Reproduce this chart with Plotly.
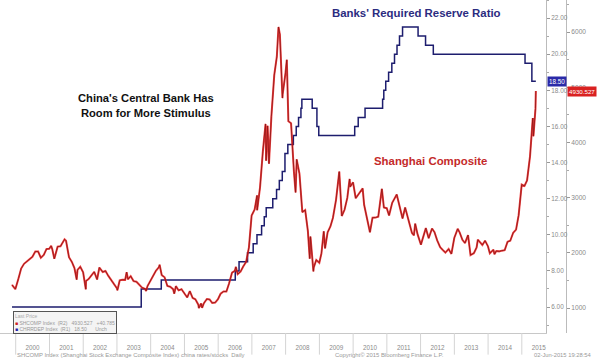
import plotly.graph_objects as go

# ---- data ----
rrr_dates = ["1999-11-22", "2003-09-21", "2004-04-25", "2006-07-05", "2006-08-15", "2006-11-15",
             "2007-01-15", "2007-02-25", "2007-04-16", "2007-05-15", "2007-06-05", "2007-08-15",
             "2007-09-25", "2007-10-25", "2007-11-26", "2007-12-25", "2008-01-25", "2008-03-25",
             "2008-04-25", "2008-05-20", "2008-06-15", "2008-06-25", "2008-10-15", "2008-12-05",
             "2008-12-25", "2010-01-18", "2010-02-25", "2010-05-10", "2010-11-16", "2010-11-29",
             "2010-12-20", "2011-01-20", "2011-02-24", "2011-03-25", "2011-04-21", "2011-05-18",
             "2011-06-20", "2011-12-05", "2012-02-24", "2012-05-18", "2015-02-05", "2015-04-20",
             "2015-06-02"]
rrr_values = [6.0, 7.0, 7.5, 8.0, 8.5, 9.0,
              9.5, 10.0, 10.5, 11.0, 11.5, 12.0,
              12.5, 13.0, 13.5, 14.5, 15.0, 15.5,
              16.0, 16.5, 17.0, 17.5, 17.0, 16.0,
              15.5, 16.0, 16.5, 17.0, 17.5, 18.0,
              18.5, 19.0, 19.5, 20.0, 20.5, 21.0,
              21.5, 21.0, 20.5, 20.0, 19.5, 18.5,
              18.5]

shcomp_dates = [
    "1999-11-22", "1999-12-28", "2000-01-31", "2000-02-29", "2000-03-31", "2000-04-28", "2000-05-31",
    "2000-06-30", "2000-07-31", "2000-08-31", "2000-09-29", "2000-10-31", "2000-11-30", "2000-12-29",
    "2001-01-19", "2001-01-31", "2001-02-22", "2001-03-30", "2001-04-30", "2001-05-31", "2001-06-13",
    "2001-06-29", "2001-07-31", "2001-08-31", "2001-09-28", "2001-10-22", "2001-10-31", "2001-11-30",
    "2001-12-31", "2002-01-29", "2002-01-31", "2002-02-28", "2002-03-29", "2002-04-30", "2002-05-31",
    "2002-06-25", "2002-07-31", "2002-08-30", "2002-09-30", "2002-10-31", "2002-11-29", "2002-12-31",
    "2003-01-06", "2003-01-31", "2003-02-28", "2003-03-31", "2003-04-16", "2003-04-30", "2003-05-30",
    "2003-06-30", "2003-07-31", "2003-08-29", "2003-09-30", "2003-10-31", "2003-11-13", "2003-11-28",
    "2003-12-31", "2004-01-30", "2004-02-27", "2004-03-31", "2004-04-07", "2004-04-30", "2004-05-31",
    "2004-06-30", "2004-07-30", "2004-08-31", "2004-09-13", "2004-09-30", "2004-10-29", "2004-11-30",
    "2004-12-31", "2005-01-31", "2005-02-28", "2005-03-31", "2005-04-29", "2005-05-31", "2005-06-06",
    "2005-06-30", "2005-07-11", "2005-07-29", "2005-08-31", "2005-09-30", "2005-10-28", "2005-11-30",
    "2005-12-30", "2006-01-27", "2006-02-28", "2006-03-31", "2006-04-28", "2006-05-31", "2006-06-30",
    "2006-07-12", "2006-07-31", "2006-08-31", "2006-09-29", "2006-10-31", "2006-11-30", "2006-12-29",
    "2007-01-31", "2007-02-26", "2007-02-27", "2007-03-30", "2007-04-30", "2007-05-29", "2007-06-04",
    "2007-06-20", "2007-07-05", "2007-07-31", "2007-08-31", "2007-09-28", "2007-10-16", "2007-10-31",
    "2007-11-28", "2007-11-30", "2007-12-31", "2008-01-14", "2008-01-31", "2008-02-29", "2008-03-31",
    "2008-04-18", "2008-04-30", "2008-05-30", "2008-06-30", "2008-07-31", "2008-08-29", "2008-09-18",
    "2008-09-26", "2008-10-28", "2008-10-31", "2008-11-28", "2008-12-31", "2009-01-23", "2009-02-17",
    "2009-03-03", "2009-03-31", "2009-04-30", "2009-05-27", "2009-06-30", "2009-08-04", "2009-08-31",
    "2009-09-30", "2009-10-30", "2009-11-24", "2009-11-30", "2009-12-31", "2010-01-29", "2010-02-26",
    "2010-04-14", "2010-04-30", "2010-05-31", "2010-07-02", "2010-07-30", "2010-08-31", "2010-09-30",
    "2010-11-08", "2010-11-30", "2010-12-31", "2011-01-25", "2011-02-28", "2011-04-18", "2011-05-31",
    "2011-06-20", "2011-07-18", "2011-08-31", "2011-09-30", "2011-10-21", "2011-11-04", "2011-11-30",
    "2011-12-28", "2012-01-05", "2012-02-27", "2012-03-29", "2012-05-04", "2012-05-31", "2012-06-29",
    "2012-07-31", "2012-08-31", "2012-09-26", "2012-10-31", "2012-11-30", "2012-12-31", "2013-02-06",
    "2013-02-28", "2013-03-29", "2013-04-26", "2013-05-29", "2013-06-25", "2013-07-31", "2013-08-30",
    "2013-09-12", "2013-10-31", "2013-11-29", "2013-12-31", "2014-01-20", "2014-02-28", "2014-03-11",
    "2014-03-31", "2014-04-30", "2014-05-30", "2014-06-30", "2014-07-31", "2014-08-29", "2014-09-30",
    "2014-10-31", "2014-11-28", "2014-12-31", "2015-01-30", "2015-02-27", "2015-03-31", "2015-04-30",
    "2015-05-07", "2015-05-29", "2015-06-02"]
shcomp_values = [
    1420, 1341, 1535, 1715, 1800, 1836, 1894,
    1928, 2023, 2022, 1910, 1961, 2070, 2073,
    2125, 2065, 1893, 2112, 2119, 2214, 2245,
    2218, 1920, 1834, 1724, 1514, 1690, 1747,
    1646, 1339, 1490, 1524, 1594, 1656, 1516,
    1733, 1652, 1671, 1581, 1508, 1427, 1358,
    1320, 1500, 1512, 1510, 1649, 1521, 1576,
    1487, 1476, 1421, 1367, 1349, 1307, 1397,
    1497, 1590, 1675, 1742, 1783, 1595, 1556,
    1399, 1386, 1342, 1260, 1396, 1320, 1340,
    1266, 1191, 1306, 1181, 1159, 1060, 998,
    1081, 1004, 1083, 1162, 1155, 1092, 1099,
    1161, 1258, 1299, 1298, 1440, 1641, 1672,
    1745, 1612, 1658, 1752, 1837, 2099, 2675,
    2786, 3040, 2771, 3183, 3841, 4335, 3670,
    4300, 3615, 4471, 5218, 5552, 6092, 5954,
    4803, 4871, 5261, 5497, 4383, 4348, 3472,
    3094, 3693, 3433, 2736, 2775, 2397, 1895,
    2293, 1664, 1728, 1871, 1820, 1990, 2389,
    2081, 2373, 2477, 2632, 2959, 3471, 2667,
    2779, 2995, 3338, 3195, 3277, 2989, 3051,
    3166, 2870, 2592, 2373, 2637, 2638, 2655,
    3159, 2820, 2808, 2677, 2905, 3057, 2743,
    2622, 2820, 2567, 2359, 2317, 2528, 2333,
    2173, 2148, 2447, 2263, 2440, 2373, 2225,
    2103, 2047, 2004, 2068, 1980, 2269, 2434,
    2365, 2236, 2177, 2321, 1959, 1993, 2098,
    2237, 2141, 2220, 2116, 1991, 2056, 1974,
    2033, 2026, 2039, 2048, 2201, 2217, 2364,
    2420, 2682, 3235, 3210, 3310, 3748, 4441,
    4112, 4612, 4930.527]

year_starts = ["2000-01-01", "2001-01-01", "2002-01-01", "2003-01-01", "2004-01-01", "2005-01-01",
               "2006-01-01", "2007-01-01", "2008-01-01", "2009-01-01", "2010-01-01", "2011-01-01",
               "2012-01-01", "2013-01-01", "2014-01-01", "2015-01-01"]

rrr_last = 18.5
shcomp_last = 4930.527

SANS = "Liberation Sans, Arial, sans-serif"
GRAY = "#8a8a8a"
W, PH = 600.0, 333.0  # paper width, plot height in px

fig = go.Figure()
fig.add_trace(go.Scatter(x=rrr_dates, y=rrr_values, mode="lines", line=dict(color="#1d1d6e", width=1.5, shape="hv"),
                         yaxis="y", hoverinfo="skip"))
fig.add_trace(go.Scatter(x=shcomp_dates, y=shcomp_values, mode="lines", line=dict(color="#ee2222", width=2.0),
                         opacity=0.85, yaxis="y2", hoverinfo="skip"))
fig.add_trace(go.Scatter(x=shcomp_dates, y=shcomp_values, mode="lines", line=dict(color="#8a1414", width=0.8),
                         yaxis="y2", hoverinfo="skip"))

shapes = []
for d in year_starts:
    shapes.append(dict(type="line", xref="x", yref="paper", x0=d, x1=d, y0=0, y1=-0.065,
                       line=dict(color="#d4d4d4", width=1)))

annotations = [
    dict(text="<b>Banks' Required Reserve Ratio</b>", xref="paper", yref="paper", x=417/W, y=1 - 13/PH,
         showarrow=False, font=dict(family=SANS, size=11.4, color="#2b2b80"), xanchor="center", yanchor="middle"),
    dict(text="<b>China's Central Bank Has<br>Room for More Stimulus</b>", xref="paper", yref="paper",
         x=146/W, y=1 - 105/PH, showarrow=False, font=dict(family=SANS, size=11.2, color="#111111"),
         xanchor="center", yanchor="middle"),
    dict(text="<b>Shanghai Composite</b>", xref="paper", yref="paper", x=430/W, y=1 - 161/PH,
         showarrow=False, font=dict(family=SANS, size=11.4, color="#c42a2a"), xanchor="center", yanchor="middle"),
    dict(text=f"{rrr_last:.2f}", xref="paper", yref="y", x=547/W, y=rrr_last, xanchor="left", yanchor="middle",
         showarrow=False, bgcolor="#2a2aa8", font=dict(family=SANS, size=6.3, color="white"), borderpad=1),
    dict(text=f"{shcomp_last:.3f}", xref="paper", yref="y2", x=567/W, y=shcomp_last, xanchor="left",
         yanchor="middle", showarrow=False, bgcolor="#d92121", font=dict(family=SANS, size=6.2, color="white"),
         borderpad=1),
    dict(text="<span style='color:#aaa'>Last Price</span><br>"
              "<span style='color:#c22'>■</span> SHCOMP Index  (R2)   4930.527   +40.785<br>"
              "<span style='color:#22a'>■</span> CHRRDEP Index  (R1)   18.50      Unch",
         xref="paper", yref="paper", x=13/W, y=1 - 311/PH, xanchor="left", yanchor="top", showarrow=False,
         align="left", bgcolor="#f4f4f4", bordercolor="#555555", borderwidth=1, borderpad=1,
         font=dict(family=SANS, size=5, color="#999999"), width=100),
    dict(text="SHCOMP Index (Shanghai Stock Exchange Composite Index) china rates/stocks  Daily",
         xref="paper", yref="paper", x=15/W, y=1 - 355/PH, xanchor="left", yanchor="middle", showarrow=False,
         font=dict(family=SANS, size=5.9, color="#999999")),
    dict(text="Copyright© 2015 Bloomberg Finance L.P.", xref="paper", yref="paper", x=389/W, y=1 - 355/PH,
         xanchor="center", yanchor="middle", showarrow=False, font=dict(family=SANS, size=5.9, color="#999999")),
    dict(text="02-Jun-2015 19:28:54", xref="paper", yref="paper", x=594/W, y=1 - 355/PH,
         xanchor="right", yanchor="middle", showarrow=False, font=dict(family=SANS, size=5.8, color="#999999")),
]

fig.update_layout(
    width=600, height=364,
    margin=dict(l=0, r=0, t=0, b=31, autoexpand=False),
    paper_bgcolor="white", plot_bgcolor="white",
    showlegend=False,
    xaxis=dict(domain=[0, 546/600], type="date", range=["1999-07-15", "2015-09-20"],
               tickformat="%Y", dtick="M12", tick0="2000-01-01", ticklabelmode="period",
               ticks="", showgrid=False, zeroline=False, showline=True, linecolor="#c8c8c8", linewidth=1,
               ticklabelstandoff=8,
               tickfont=dict(family=SANS, size=6.3, color=GRAY), automargin=False),
    yaxis=dict(side="right", anchor="x", range=[4.56, 23.0], tickvals=[6, 8, 10, 12, 14, 16, 18, 20, 22],
               tickformat=".2f", ticks="outside", ticklen=3, tickcolor="#999", showgrid=False, zeroline=False,
               showline=True, linecolor="#bbbbbb", linewidth=1,
               minor=dict(tickvals=[5, 7, 9, 11, 13, 15, 17, 19, 21, 23], ticks="outside", ticklen=2, tickcolor="#aaa"),
               tickfont=dict(family=SANS, size=6.4, color=GRAY), automargin=False),
    yaxis2=dict(side="right", overlaying="y", anchor="free", position=566/600, range=[547, 6580],
                tickvals=[1000, 2000, 3000, 4000, 5000, 6000], tickformat="d", ticks="outside", ticklen=3,
                tickcolor="#999", showgrid=False, zeroline=False, showline=True, linecolor="#bbbbbb", linewidth=1,
                minor=dict(tickvals=[1500, 2500, 3500, 4500, 5500, 6500], ticks="outside", ticklen=2, tickcolor="#aaa"),
                tickfont=dict(family=SANS, size=6.6, color=GRAY), automargin=False),
    shapes=shapes,
    annotations=annotations,
)

fig.write_html("out.html")
